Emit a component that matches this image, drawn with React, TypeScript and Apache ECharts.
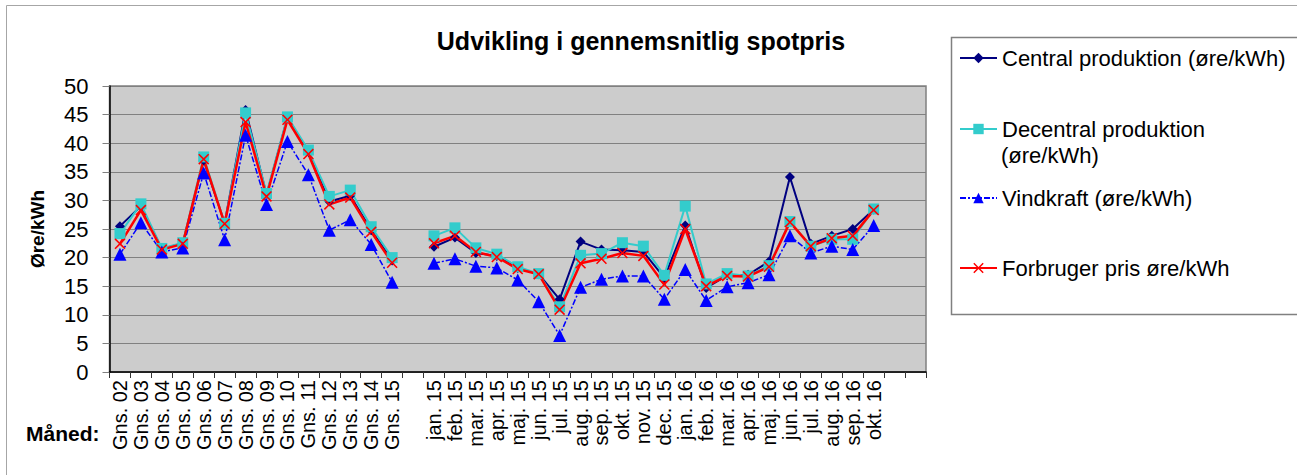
import React, { useEffect, useRef } from "react";
import * as echarts from "echarts";

const categories = [
  "Gns. 02", "Gns. 03", "Gns. 04", "Gns. 05", "Gns. 06", "Gns. 07", "Gns. 08",
  "Gns. 09", "Gns. 10", "Gns. 11", "Gns. 12", "Gns. 13", "Gns. 14", "Gns. 15",
  " ",
  "jan. 15", "feb. 15", "mar. 15", "apr. 15", "maj. 15", "jun. 15", "jul. 15",
  "aug. 15", "sep. 15", "okt. 15", "nov. 15", "dec. 15", "jan. 16", "feb. 16",
  "mar. 16", "apr. 16", "maj. 16", "jun. 16", "jul. 16", "aug. 16", "sep. 16",
  "okt. 16",
  "  ", "   ",
];

const central = [
  25.5, 29, 21.5, 22.5, 37, 26, 45.8, 31, 44.5, 38.5, 29.8, 30.8, 24.8, 19.5,
  null,
  21.9, 23.5, 20.8, 20.3, 18.2, 17.1, 12.7, 22.8, 21.4, 21.3, 21, 16.5, 25.6,
  14.7, 16.9, 17, 19.3, 34.1, 22.4, 23.8, 25, 28.4,
  null, null,
];

const decentral = [
  24.2, 29.4, 21.6, 22.6, 37.6, 26, 45.3, 31.2, 44.6, 38.8, 30.7, 31.8, 25.4, 20,
  null,
  23.8, 25.2, 21.7, 20.6, 18.4, 17.2, 11.4, 20.4, 20.7, 22.6, 22, 16.9, 29,
  15.4, 17.2, 16.8, 18.6, 26.3, 22, 23.2, 23.2, 28.5,
  null, null,
];

const vindkraft = [
  20.6, 26.1, 21, 21.7, 34.8, 23.1, 41.4, 29.3, 40.3, 34.5, 24.8, 26.6, 22.3, 15.7,
  null,
  19, 19.8, 18.5, 18.2, 16.1, 12.3, 6.4, 14.8, 16.2, 16.8, 16.8, 12.7, 17.9,
  12.5, 14.9, 15.6, 17, 23.8, 20.8, 22, 21.4, 25.6,
  null, null,
];

const forbruger = [
  22.4, 28.3, 21.4, 22.4, 37.2, 25.9, 43.7, 30.7, 44.1, 38.1, 29.3, 30.5, 24.5, 19.1,
  null,
  22.5, 23.8, 21, 20.1, 18, 17.1, 10.9, 19, 19.8, 20.8, 20.3, 15.3, 25,
  15, 16.8, 16.7, 18.4, 26.2, 22, 23.4, 23.8, 28.3,
  null, null,
];

const yTicks = { min: 0, max: 50, interval: 5 };

const NAMES = {
  central: "Central produktion (øre/kWh)",
  decentral: "Decentral produktion (øre/kWh)",
  vind: "Vindkraft (øre/kWh)",
  forbruger: "Forbruger pris øre/kWh",
};

const FONT = "'Liberation Sans', Arial, sans-serif";
const X_SYMBOL =
  "path://M0,1 L1,0 L5,4 L9,0 L10,1 L6,5 L10,9 L9,10 L5,6 L1,10 L0,9 L4,5 Z";

export default function App() {
  const ref = useRef<HTMLDivElement>(null);

  useEffect(() => {
    document.body.style.margin = "0";
    if (!ref.current) return;
    const chart = echarts.init(ref.current, undefined, { renderer: "svg" });

    const legendItem = (name: string, centerY: number, formatter?: any) => ({
      data: [name],
      left: 959,
      top: centerY - 13,
      padding: 0,
      itemWidth: 37,
      itemHeight: 13,
      selectedMode: false,
      formatter: formatter,
      textStyle: { fontSize: 22, fontFamily: FONT, color: "#000", lineHeight: 26 },
    });

    chart.setOption({
      animation: false,
      backgroundColor: "#ffffff",
      textStyle: { fontFamily: FONT },
      grid: {
        left: 109.5,
        top: 86,
        right: 371,
        bottom: 103,
        show: true,
        backgroundColor: "#cccccc",
        borderColor: "#808080",
        borderWidth: 1.5,
      },
      legend: [
        legendItem(NAMES.central, 58),
        legendItem(NAMES.decentral, 129, () => "Decentral produktion"),
        legendItem(NAMES.vind, 198),
        legendItem(NAMES.forbruger, 268),
      ],
      graphic: [
        {
          type: "rect",
          shape: { x: 6.5, y: 5.5, width: 1400, height: 600 },
          style: { fill: "none", stroke: "#a6a6a6", lineWidth: 1 },
          silent: true,
        },
        {
          type: "rect",
          shape: { x: 951.5, y: 37.5, width: 400, height: 277 },
          style: { fill: "none", stroke: "#808080", lineWidth: 1.5 },
          silent: true,
        },
        {
          type: "text",
          x: 641,
          y: 41,
          style: {
            text: "Udvikling i gennemsnitlig spotpris",
            font: `bold 25px ${FONT}`,
            fill: "#000",
            align: "center",
            verticalAlign: "middle",
          },
        },
        {
          type: "text",
          x: 1001,
          y: 155,
          style: {
            text: "(øre/kWh)",
            font: `22px ${FONT}`,
            fill: "#000",
            align: "left",
            verticalAlign: "middle",
          },
        },
        {
          type: "text",
          x: 26,
          y: 433,
          style: {
            text: "Måned:",
            font: `bold 21px ${FONT}`,
            fill: "#000",
            align: "left",
            verticalAlign: "middle",
          },
        },
      ],
      xAxis: {
        type: "category",
        data: categories,
        boundaryGap: true,
        axisLine: { show: true, lineStyle: { color: "#000", width: 1.5 } },
        axisTick: { show: true, interval: 0, length: 6, lineStyle: { color: "#333" } },
        axisLabel: {
          interval: 0,
          rotate: 90,
          margin: 8,
          fontSize: 20,
          color: "#000",
          fontFamily: FONT,
        },
        splitLine: { show: false },
      },
      yAxis: {
        type: "value",
        min: yTicks.min,
        max: yTicks.max,
        interval: yTicks.interval,
        name: "Øre/kWh",
        nameLocation: "middle",
        nameRotate: 90,
        nameGap: 63,
        nameTextStyle: { fontSize: 19, fontWeight: "bold", color: "#000", fontFamily: FONT },
        axisLine: { show: true, lineStyle: { color: "#000", width: 1.5 } },
        axisTick: { show: true, length: 7, lineStyle: { color: "#808080" } },
        axisLabel: { fontSize: 22, color: "#000", margin: 21, fontFamily: FONT },
        splitLine: { show: true, lineStyle: { color: "#808080", width: 1 } },
      },
      series: [
        {
          name: NAMES.central,
          type: "line",
          data: central,
          symbol: "diamond",
          symbolSize: 10,
          connectNulls: false,
          lineStyle: { color: "#000080", width: 2 },
          itemStyle: { color: "#000080" },
        },
        {
          name: NAMES.decentral,
          type: "line",
          data: decentral,
          symbol: "rect",
          symbolSize: 11,
          connectNulls: false,
          lineStyle: { color: "#33CCCC", width: 2 },
          itemStyle: { color: "#33CCCC" },
        },
        {
          name: NAMES.vind,
          type: "line",
          data: vindkraft,
          symbol: "triangle",
          symbolSize: 13,
          connectNulls: false,
          lineStyle: { color: "#0000FF", width: 1.5, type: [6, 2, 2, 2] },
          itemStyle: { color: "#0000FF" },
        },
        {
          name: NAMES.forbruger,
          type: "line",
          data: forbruger,
          symbol: X_SYMBOL,
          symbolSize: 11,
          connectNulls: false,
          lineStyle: { color: "#FF0000", width: 2.5 },
          itemStyle: { color: "#FF0000" },
        },
      ],
    });

    return () => chart.dispose();
  }, []);

  return <div ref={ref} style={{ width: 1297, height: 475 }} />;
}
